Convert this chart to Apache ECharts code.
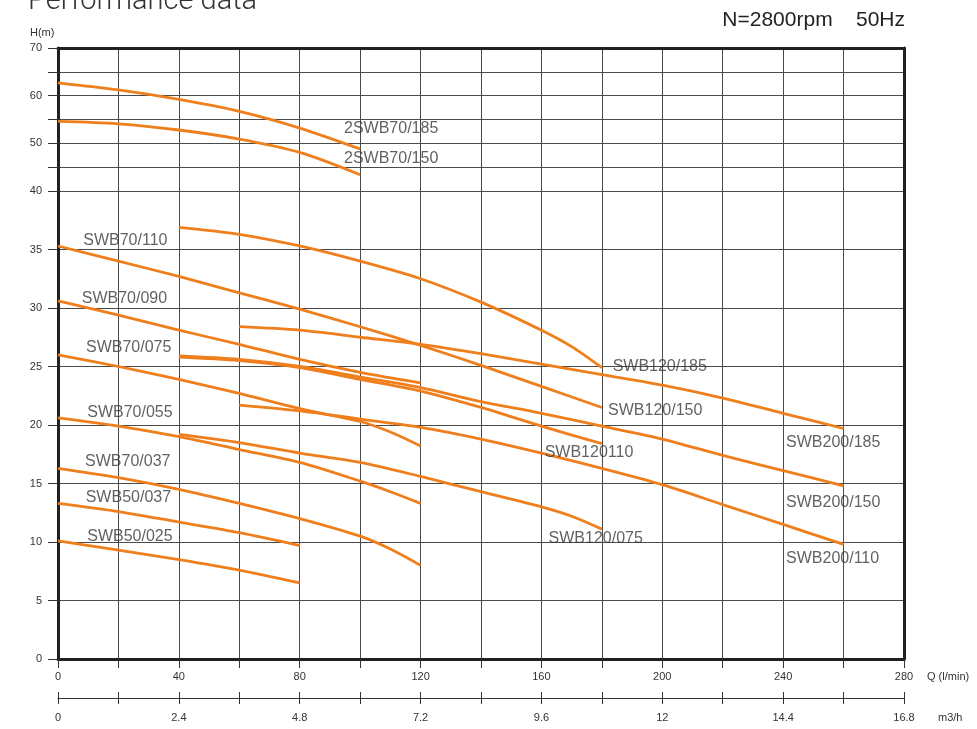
<!DOCTYPE html>
<html><head><meta charset="utf-8">
<script src="https://cdn.jsdelivr.net/npm/echarts@6/dist/echarts.min.js"></script>
<style>html,body{margin:0;padding:0;background:#fff}#c{width:977px;height:729px}</style>
</head><body><div id="c"></div>
<script>
// ---- tick labels ----
const qLabels = [0, 40, 80, 120, 160, 200, 240, 280];            // l/min
const m3hLabels = ['0', '2.4', '4.8', '7.2', '9.6', '12', '14.4', '16.8']; // m3/h
const hLabelsUpper = [40, 50, 60, 70];
const hLabelsLower = [0, 5, 10, 15, 20, 25, 30, 35];

// ---- curves [Q (l/min), H (m)] ----
const c2SWB70_185 = [[0,62.7],[20,61.2],[40,59.2],[60,56.7],[80,53.2],[100,48.8]];
const c2SWB70_150 = [[0,54.6],[20,54.1],[40,52.8],[60,50.9],[80,48.1],[100,43.4]];

const cSWB120_185 = [[40,36.9],[60,36.3],[80,35.3],[100,34.0],[120,32.5],[140,30.5],[160,28.1],[170,26.7],[180,24.9]];
const cSWB70_110  = [[0,35.3],[20,34.0],[40,32.7],[60,31.3],[80,29.9],[100,28.4],[120,26.8],[140,25.1],[160,23.3],[180,21.5]];
const cSWB200_185 = [[60,28.4],[80,28.1],[100,27.5],[120,26.9],[140,26.1],[160,25.2],[180,24.3],[200,23.4],[220,22.3],[240,21.0],[260,19.7]];
const cSWB70_090  = [[0,30.6],[20,29.4],[40,28.1],[60,26.9],[80,25.6],[100,24.5],[120,23.6]];
const cSWB70_075  = [[0,26.0],[20,25.0],[40,23.9],[60,22.7],[80,21.4],[100,20.3],[110,19.4],[120,18.2]];
const cSWB200_150 = [[40,25.9],[60,25.6],[80,25.0],[100,24.1],[120,23.2],[140,22.0],[160,21.0],[180,19.9],[200,18.8],[220,17.4],[240,16.1],[260,14.8]];
const cSWB120_110 = [[40,25.8],[60,25.5],[80,24.9],[100,23.9],[120,22.9],[140,21.5],[160,19.9],[180,18.4]];
const cSWB200_110 = [[60,21.7],[80,21.2],[100,20.5],[120,19.8],[140,18.8],[160,17.6],[180,16.3],[200,14.9],[220,13.2],[240,11.5],[260,9.8]];
const cSWB70_055  = [[0,20.6],[20,19.9],[40,19.0],[60,17.9],[80,16.8],[100,15.2],[110,14.3],[120,13.3]];
const cSWB120_075 = [[40,19.2],[60,18.5],[80,17.6],[100,16.8],[120,15.6],[140,14.3],[160,13.0],[170,12.2],[180,11.1]];
const cSWB70_037  = [[0,16.3],[20,15.5],[40,14.5],[60,13.3],[80,12.0],[100,10.5],[110,9.4],[120,8.0]];
const cSWB50_037  = [[0,13.3],[20,12.6],[40,11.7],[60,10.8],[80,9.7]];
const cSWB50_025  = [[0,10.1],[20,9.3],[40,8.5],[60,7.6],[80,6.5]];

const upperCurves = [c2SWB70_185, c2SWB70_150];
const lowerCurves = [cSWB120_185, cSWB70_110, cSWB200_185, cSWB70_090, cSWB70_075, cSWB200_150,
                     cSWB120_110, cSWB200_110, cSWB70_055, cSWB120_075, cSWB70_037, cSWB50_037, cSWB50_025];

// ---- curve names, anchored at [Q, H] (text left edge, vertical centre) ----
const namesUpper = ['2SWB70/185', '2SWB70/150'];
const anchorsUpper = [[94.5,53.0],[94.5,46.9]];
const namesLower = ['SWB70/110','SWB70/090','SWB70/075','SWB70/055','SWB70/037','SWB50/037','SWB50/025',
                    'SWB120/185','SWB120/150','SWB120110','SWB120/075','SWB200/185','SWB200/150','SWB200/110'];
const anchorsLower = [[8.2,35.8],[7.7,30.8],[9.1,26.6],[9.5,21.1],[8.8,16.9],[9.0,13.8],[9.5,10.5],
                      [183.4,25.0],[181.9,21.2],[160.9,17.6],[162.2,10.3],[240.8,18.5],[240.8,13.4],[240.8,8.6]];

// ---- styles ----
const LINE = '#EF7F1D';
const DARK = '#231F20';
const GRIDC = '#4a4a4a';
const TXT = '#333333';
const FONT = '"Liberation Sans", Arial, Helvetica, sans-serif';

function curveSeries(data, xi, yi) {
  return { type: 'line', xAxisIndex: xi, yAxisIndex: yi, data: data, smooth: 0.3,
    showSymbol: false, symbol: 'none', lineStyle: { color: LINE, width: 2.8 }, z: 3, silent: true };
}
function labelSeries(names, anchors, xi, yi) {
  return { type: 'scatter', xAxisIndex: xi, yAxisIndex: yi, symbolSize: 1, z: 4, silent: true,
    itemStyle: { color: 'rgba(0,0,0,0)' },
    data: names.map((n, i) => ({ name: n, value: anchors[i] })),
    label: { show: true, position: 'right', distance: 0, formatter: '{b}', fontSize: 16,
      color: '#3a3a3a', fontFamily: FONT } };
}

const xBase = { type: 'value', min: 0, max: 280, interval: 20 };
const split = { show: true, lineStyle: { color: GRIDC, width: 1 } };

const option = {
  animation: false,
  backgroundColor: '#ffffff',
  textStyle: { fontFamily: FONT },
  title: [
    { text: 'Performance data', left: 23, top: -18,
      textStyle: { fontFamily: 'Roboto, "Liberation Sans", sans-serif', fontWeight: 300, fontSize: 29, color: '#333' } },
    { text: 'N=2800rpm    50Hz', right: 67, top: 5,
      textStyle: { fontFamily: FONT, fontWeight: 'normal', fontSize: 21, color: '#222' } },
    { text: 'H(m)', left: 25, top: 22,
      textStyle: { fontFamily: FONT, fontWeight: 'normal', fontSize: 11, color: TXT } }
  ],
  grid: [
    { left: 58, right: 73, top: 48, height: 143 },
    { left: 58, right: 73, top: 191, height: 468 }
  ],
  xAxis: [
    Object.assign({}, xBase, { gridIndex: 0, position: 'top',
      axisLine: { show: true, onZero: false, lineStyle: { color: DARK, width: 3 } },
      axisTick: { show: false }, axisLabel: { show: false }, splitLine: split }),
    Object.assign({}, xBase, { gridIndex: 1, position: 'bottom',
      axisLine: { show: true, onZero: false, lineStyle: { color: DARK, width: 3 } },
      axisTick: { show: true, length: 9, lineStyle: { color: '#333', width: 1 } },
      axisLabel: { fontSize: 11, color: TXT, margin: 12,
        formatter: v => qLabels.includes(v) ? String(v) : '' },
      splitLine: split,
      name: 'Q (l/min)', nameLocation: 'end', nameGap: 23,
      nameTextStyle: { fontSize: 11, color: TXT, verticalAlign: 'top', padding: [12, 0, 0, 0] } }),
    Object.assign({}, xBase, { gridIndex: 1, position: 'bottom', offset: 39,
      axisLine: { show: true, onZero: false, lineStyle: { color: '#333', width: 1 } },
      axisTick: { show: true, length: 6, lineStyle: { color: '#333', width: 1 } },
      axisLabel: { fontSize: 11, color: TXT, margin: 14,
        formatter: (v, i) => (i % 2 === 0 && m3hLabels[i / 2] !== undefined) ? m3hLabels[i / 2] : '' },
      splitLine: { show: false },
      name: 'm3/h', nameLocation: 'end', nameGap: 34,
      nameTextStyle: { fontSize: 11, color: TXT, verticalAlign: 'top', padding: [14, 0, 0, 0] } }),
    Object.assign({}, xBase, { gridIndex: 1, position: 'bottom', offset: 39,
      axisLine: { show: false, onZero: false },
      axisTick: { show: true, inside: true, length: 6, lineStyle: { color: '#333', width: 1 } },
      axisLabel: { show: false }, splitLine: { show: false } })
  ],
  yAxis: [
    { gridIndex: 0, type: 'value', min: 40, max: 70, interval: 5, position: 'left',
      axisLine: { show: true, onZero: false, lineStyle: { color: DARK, width: 3 } },
      axisTick: { show: true, length: 10, lineStyle: { color: '#333', width: 1 } },
      axisLabel: { fontSize: 11, color: TXT, margin: 16,
        formatter: v => hLabelsUpper.includes(v) ? String(v) : '' },
      splitLine: split },
    { gridIndex: 0, type: 'value', min: 40, max: 70, interval: 5, position: 'right',
      axisLine: { show: true, onZero: false, lineStyle: { color: DARK, width: 3 } },
      axisTick: { show: false }, axisLabel: { show: false }, splitLine: { show: false } },
    { gridIndex: 1, type: 'value', min: 0, max: 40, interval: 5, position: 'left',
      axisLine: { show: true, onZero: false, lineStyle: { color: DARK, width: 3 } },
      axisTick: { show: true, length: 10, lineStyle: { color: '#333', width: 1 } },
      axisLabel: { fontSize: 11, color: TXT, margin: 16,
        formatter: v => hLabelsLower.includes(v) ? String(v) : '' },
      splitLine: split },
    { gridIndex: 1, type: 'value', min: 0, max: 40, interval: 5, position: 'right',
      axisLine: { show: true, onZero: false, lineStyle: { color: DARK, width: 3 } },
      axisTick: { show: false }, axisLabel: { show: false }, splitLine: { show: false } }
  ],
  series: [].concat(
    upperCurves.map(c => curveSeries(c, 0, 0)),
    lowerCurves.map(c => curveSeries(c, 1, 2)),
    [labelSeries(namesUpper, anchorsUpper, 0, 0), labelSeries(namesLower, anchorsLower, 1, 2)]
  )
};

const chart = echarts.init(document.getElementById('c'), null, { renderer: 'canvas' });
chart.setOption(option);
</script>
</body></html>
